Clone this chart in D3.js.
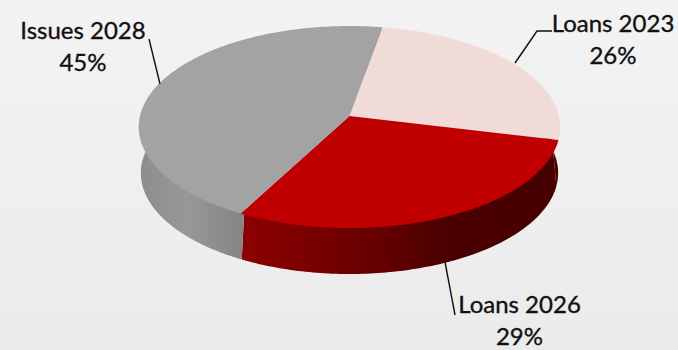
<!DOCTYPE html>
<html>
<head>
<meta charset="utf-8">
<script src="https://cdn.jsdelivr.net/npm/d3@7/dist/d3.min.js"></script>
<style>
html,body{margin:0;padding:0;background:#eeeeee;}
svg{display:block;}
text{font-family:Lato,"Open Sans",sans-serif;font-size:24px;fill:#111;stroke:#111;stroke-width:0.35px;text-anchor:middle;}
</style>
</head>
<body>
<svg id="chart" width="678" height="350"></svg>
<script>
// Share of maturities by instrument
const categories = ["Loans 2023", "Loans 2026", "Issues 2028"];
const shares = [26, 29, 45];

const topColors = ["#f1dbd8", "#c00000", "#a3a3a3"];
const wallStops = [
  [[0, "#5a0000"], [1, "#4a0000"]],
  [[0, "#8e0000"], [0.45, "#640000"], [0.62, "#4c0000"], [1, "#460000"]],
  [[0, "#8d8d8d"], [0.45, "#989898"], [1, "#858585"]]
];
const wallSpans = [[520, 562], [241, 560], [140, 242]];

const W = 678, H = 350;
const cx = 349.5, apexY = 116, depth = 46, baseNarrowing = 0.99;
const radiusX = 209.5, persp = -0.1089, slopeY = 87.17;
const firstAngle = 10 * Math.PI / 180;

const svg = d3.select("#chart");
const defs = svg.append("defs");

const bg = defs.append("linearGradient").attr("id", "bg")
  .attr("x1", 0).attr("y1", 0).attr("x2", 0).attr("y2", 1);
bg.append("stop").attr("offset", 0).attr("stop-color", "#f3f3f3");
bg.append("stop").attr("offset", 1).attr("stop-color", "#ebebeb");
svg.append("rect").attr("width", W).attr("height", H).attr("fill", "url(#bg)");

// Perspective view of the unit disc: the nearer rim is drawn larger
function project(angle, r = 1) {
  const u = r * Math.sin(angle), v = -r * Math.cos(angle);
  const w = 1 + persp * v;
  return [cx + radiusX * u / w, (apexY + slopeY * v) / w];
}

const pie = d3.pie().sort(null)
  .startAngle(firstAngle).endAngle(firstAngle + 2 * Math.PI);
const slices = pie(shares);

function rim(d, r = 1) {
  const n = Math.max(2, Math.ceil((d.endAngle - d.startAngle) * 60));
  return d3.range(n + 1).map(i =>
    project(d.startAngle + (d.endAngle - d.startAngle) * i / n, r));
}

const line = d3.line().curve(d3.curveLinear);

// Walls first, lit with a horizontal gradient along the rim
slices.forEach((d, i) => {
  const g = defs.append("linearGradient").attr("id", "wall" + i)
    .attr("gradientUnits", "userSpaceOnUse")
    .attr("x1", wallSpans[i][0]).attr("x2", wallSpans[i][1])
    .attr("y1", 0).attr("y2", 0);
  wallStops[i].forEach(s =>
    g.append("stop").attr("offset", s[0]).attr("stop-color", s[1]));
});

svg.append("g").selectAll("path").data(slices).join("path")
  .attr("d", d => {
    // The upper edge tucks under the top face so no seam shows along the rim
    const upper = rim(d, 0.97);
    const lower = rim(d).map(p =>
      [cx + (p[0] - cx) * baseNarrowing, p[1] + depth]).reverse();
    return line(upper.concat(lower)) + "Z";
  })
  .attr("fill", (d, i) => `url(#wall${i})`);

// Top face
svg.append("g").selectAll("path").data(slices).join("path")
  .attr("d", d => line([project(0, 0)].concat(rim(d))) + "Z")
  .attr("fill", (d, i) => topColors[i]);

// Leader lines
const leaderPath = d3.line();
const leaders = [
  [[552, 31], [537, 31], [515, 63]],
  [[445, 262], [455, 315]],
  [[149, 39], [160, 84]]
];
svg.append("g").selectAll("path").data(leaders).join("path")
  .attr("d", d => leaderPath(d))
  .attr("fill", "none").attr("stroke", "#111").attr("stroke-width", 1.4);

// Category and share labels
const labelAnchors = [[613, 32, 64], [519.5, 313, 344.5], [83, 39, 71]];
const labels = svg.append("g").selectAll("g").data(slices).join("g");
labels.append("text")
  .attr("x", (d, i) => labelAnchors[i][0])
  .attr("y", (d, i) => labelAnchors[i][1])
  .text((d, i) => categories[i]);
labels.append("text")
  .attr("x", (d, i) => labelAnchors[i][0])
  .attr("y", (d, i) => labelAnchors[i][2])
  .text(d => d.value + "%");
</script>
</body>
</html>
